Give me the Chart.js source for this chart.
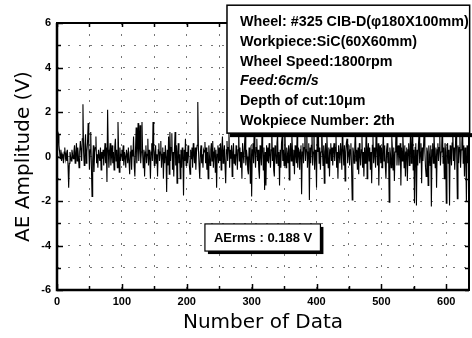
<!DOCTYPE html>
<html>
<head>
<meta charset="utf-8">
<script src="https://cdn.jsdelivr.net/npm/chart.js@4.4.0/dist/chart.umd.min.js"></script>
<style>
  html, body { margin: 0; padding: 0; background: #fff; }
</style>
</head>
<body>
<canvas id="aeChart" width="472" height="338"></canvas>
<script>
// AE amplitude (V) for each data number 0..634
const amplitude = [
  0.3, 0.9, 1.0, 0.5, 0.2, -0.1, 0.3, -0.2, 0.1, 0.0, -0.3, 0.2, 0.4, -0.1, 0.1, -0.2, 0.3, -0.4, -1.4, -0.3, 0.2, 0.0, -0.2, 0.3, 0.1,
  -0.1, 0.2, 0.5, -0.3, 0.1, 0.6, -0.2, 0.4, 0.0, -0.5, 0.2, 0.7, 0.3, -0.2, 0.8, 2.35, 0.2, -0.4, 0.5, 1.0, -0.3, 0.2, 0.6, 1.5, 0.4,
  -0.6, 0.3, 1.1, -0.4, -1.8, -0.2, 0.5, -0.7, 0.2, 0.4, 0.9, -0.3, 0.1, -0.5, 0.3, 0.0, -0.2, 0.4, -0.6, 0.2, -0.1, 0.3, -0.4, 0.1, 0.6,
  -0.3, 0.4, -1.15, 2.1, 0.3, -0.5, 0.2, 0.6, -0.4, 0.0, 0.5, -0.3, 0.2, -0.6, 0.4, 0.8, -0.2, 0.3, -0.5, 1.55, 0.2, -0.7, 0.4, -0.2, 0.1,
  0.3, -0.2, 0.5, -0.4, 0.2, 0.0, -0.5, 0.3, 0.1, -0.3, 0.4, -0.2, -0.8, 0.2, 0.5, -0.6, 0.3, 0.0, 0.9, -0.4, -0.9, 0.3, 1.3, -0.3, 0.4,
  1.5, -0.2, 0.4, 1.4, -0.3, 0.2, 1.55, 0.1, -0.5, 0.3, -0.9, 0.2, 0.5, -0.3, 0.1, 0.8, -0.4, 0.3, 0.0, -1.0, 0.2, 0.6, -0.2, 1.55, 0.3,
  -0.4, 0.2, 0.5, -0.3, 0.1, -0.9, 0.3, 0.6, -0.2, 0.2, 0.7, -0.5, 0.1, 0.4, -1.0, 0.2, -0.3, 0.5, 0.0, -1.6, 0.3, -0.4, 0.9, -0.8, 1.1,
  -0.2, 0.4, 1.05, -0.6, 0.2, -0.9, 0.3, 1.1, -0.4, 0.5, -1.2, 0.2, 0.6, -0.3, 0.1, -1.0, 0.3, -0.5, 0.4, 0.2, -1.75, 0.3, -0.2, 0.8, -0.4,
  0.2, -0.3, 0.5, 0.1, -0.4, -0.8, 0.3, -0.1, 0.4, -0.5, 0.6, 0.1, -0.3, 0.4, -0.6, 0.2, 0.5, 2.45, 0.3, -0.4, -1.0, 0.2, 0.5, -0.3, 0.1,
  -0.5, 0.3, 0.2, 0.65, -0.3, 0.4, -0.6, 0.2, -1.0, 0.5, 0.0, -0.4, 0.3, 0.6, -0.2, 0.7, -0.5, 0.2, 0.4, -0.7, 0.3, -1.4, 0.1, 0.5, -0.3,
  0.4, -0.2, 0.6, -0.6, 0.3, 0.9, -0.3, 0.2, 0.5, -0.4, -1.2, 0.3, 0.7, -0.2, 0.4, 1.2, -0.5, 0.3, -0.1, 0.5, -0.9, 0.2, 0.6, -0.3, 0.1,
  -0.4, 0.5, 0.2, -0.6, 0.3, 1.3, -0.2, 0.4, -0.5, 0.2, -1.0, 0.6, 0.1, -0.3, 0.5, 1.1, -0.4, 0.3, 0.0, -0.6, -0.8, 0.4, 0.2, -1.2, 0.5,
  -1.8, 0.3, 0.6, -0.3, 1.4, 0.2, -0.5, 0.4, 0.8, -0.2, 0.3, -0.6, -1.0, 0.5, 0.1, -0.4, 1.2, 0.3, -0.6, 0.4, -1.5, 0.2, -1.3, 0.5, -0.2,
  0.4, -0.3, 0.6, 0.1, -0.5, 0.3, 1.5, -0.2, 0.4, -0.6, -0.9, 0.5, 0.2, -0.3, 0.6, 1.0, -0.4, 0.2, -1.3, 0.3, -0.5, 0.6, 0.9, -0.2, 0.3,
  -0.4, 1.6, 0.2, -0.5, 0.4, 0.1, -0.3, 0.5, -1.05, 0.3, 0.6, -0.2, 1.0, 0.2, -0.4, 0.3, -0.8, 0.5, 0.1, -0.3, 0.9, -0.5, 0.4, 0.2, -0.6,
  0.3, 0.5, -1.7, 0.2, 0.6, -0.3, 0.4, 1.5, -0.2, 0.3, 1.3, -0.5, 0.2, 0.6, -1.95, 0.4, -0.3, 0.5, 1.1, -0.4, 0.2, 1.4, -0.6, 0.3, 0.1,
  -1.4, 1.2, 0.2, 0.9, -0.3, 0.4, -0.6, 0.2, 1.5, 0.3, -0.4, 0.5, -1.2, 0.2, 0.6, -0.3, 0.9, 0.1, -0.5, 0.4, -0.9, 0.3, 0.6, -0.2, 0.4,
  -0.4, 0.3, 0.6, -0.2, 0.4, 1.0, -0.5, 0.2, -1.0, 0.5, 0.1, -0.3, 0.6, 0.2, -0.6, 1.6, 0.3, -0.4, 0.5, -1.1, 0.2, 0.6, 0.8, -0.3, 0.2,
  0.5, -0.4, 0.3, 0.6, -0.5, -1.95, 0.4, 0.2, -0.3, 0.5, 1.2, -0.2, 0.3, -0.6, 0.4, -0.8, 0.6, 0.1, -0.4, 0.3, 1.0, -0.5, 0.2, -0.9, 0.4,
  -0.3, 0.5, 1.5, -1.0, 0.3, 0.6, -0.2, 0.4, -0.6, 0.2, -1.2, 0.5, 0.9, -0.3, 0.4, 0.1, -0.5, 1.6, 0.3, -0.4, 0.6, -1.3, 0.2, 0.5, -0.3,
  0.4, -0.5, 0.3, 1.1, -0.2, 0.5, -0.4, -1.0, 0.3, 0.6, -0.3, 0.2, -2.05, 0.4, 0.1, -0.5, 0.9, 0.3, -0.6, 0.4, -1.1, 0.2, 0.6, 1.6, -0.4,
  0.3, 0.5, -0.4, 0.2, 0.6, -1.3, 0.4, -0.2, 1.0, 0.3, -0.5, 0.5, -0.9, 0.2, 0.4, -1.1, 0.3, 0.6, -0.4, 0.2, 1.2, -0.3, 0.4, 1.5, -0.6,
  0.3, -2.1, 0.4, 0.6, -2.2, 0.3, -0.4, 0.5, 1.0, -0.3, 0.2, 0.6, -1.2, 0.4, -0.2, 0.5, 1.3, 0.2, -0.5, -0.9, 0.4, 0.2, -1.3, 0.5, 0.1,
  -0.4, 0.5, -2.25, 0.3, 0.6, -0.3, 1.1, 0.2, -0.5, 0.4, -1.4, 0.3, 0.6, -0.2, 0.4, 0.9, -0.4, 0.2, 0.5, 1.6, -0.3, 0.4, -1.0, 0.6, 0.2,
  -2.1, 0.4, 0.6, -0.3, 0.3, -2.2, 0.5, 0.2, -0.4, 0.6, 1.2, -0.2, 0.4, -0.6, 0.3, 1.5, 0.2, -1.9, 0.5, -0.3, 0.4, 0.9, -0.5, 0.3, 0.6,
  1.4, -0.3, 0.5, -0.9, 0.4, 0.2, -2.0, 0.5, -0.3, 0.4
];

const xMin = 0, xMax = 635;
const yMin = -6, yMax = 6;

const infoLines = [
  'Wheel: #325 CIB-D(\u03C6180X100mm)',
  'Workpiece:SiC(60X60mm)',
  'Wheel Speed:1800rpm',
  'Feed:6cm/s',
  'Depth of cut:10\u03BCm',
  'Wokpiece Number: 2th'
];
const infoItalic = [false, false, false, true, false, false];
const rmsLabel = 'AErms : 0.188 V';

const tickFont = { family: '"Liberation Sans", Arial, sans-serif', size: 11, weight: 'bold' };
const titleFont = { family: '"DejaVu Sans", sans-serif', size: 20 };

// frame, inward ticks and the two text boxes
const decorPlugin = {
  id: 'decor',
  afterDatasetsDraw(chart) {
    const { ctx, chartArea: a, scales: { x, y } } = chart;
    ctx.save();
    ctx.strokeStyle = '#000';
    ctx.lineWidth = 1.5;
    ctx.beginPath();
    x.ticks.forEach(t => {
      const px = Math.round(x.getPixelForValue(t.value)) + 0.5;
      const len = t.value % 100 === 0 ? 6 : 4;
      ctx.moveTo(px, a.bottom); ctx.lineTo(px, a.bottom - len);
      ctx.moveTo(px, a.top); ctx.lineTo(px, a.top + 4);
    });
    y.ticks.forEach(t => {
      const py = Math.round(y.getPixelForValue(t.value)) + 0.5;
      const len = t.value % 2 === 0 ? 6 : 4;
      ctx.moveTo(a.left, py); ctx.lineTo(a.left + len, py);
      ctx.moveTo(a.right, py); ctx.lineTo(a.right - 4, py);
    });
    ctx.stroke();

    // plot frame
    ctx.lineWidth = 2;
    ctx.strokeRect(a.left, a.top, a.right - a.left, a.bottom - a.top);
    ctx.lineWidth = 2.5;
    ctx.beginPath();
    ctx.moveTo(a.left, a.top); ctx.lineTo(a.left, a.bottom); ctx.lineTo(a.right, a.bottom);
    ctx.stroke();

    // info box (upper right)
    const bx0 = x.getPixelForValue(262), bx1 = x.getPixelForValue(636);
    const by0 = y.getPixelForValue(6.8), by1 = y.getPixelForValue(1.05);
    ctx.fillStyle = '#000';
    ctx.fillRect(bx0 + 3, by1, bx1 - bx0, 4);
    ctx.fillStyle = '#fff';
    ctx.fillRect(bx0, by0, bx1 - bx0, by1 - by0);
    ctx.lineWidth = 1.5;
    ctx.strokeRect(bx0, by0, bx1 - bx0, by1 - by0);
    ctx.fillStyle = '#000';
    ctx.textBaseline = 'middle';
    ctx.textAlign = 'left';
    infoLines.forEach((line, i) => {
      ctx.font = (infoItalic[i] ? 'italic ' : '') + 'bold 14.3px "Liberation Sans", Arial, sans-serif';
      ctx.fillText(line, bx0 + 13, by0 + 17 + i * 19.7);
    });

    // AErms box
    const rx0 = x.getPixelForValue(228), rx1 = x.getPixelForValue(406);
    const ry0 = y.getPixelForValue(-3.03), ry1 = y.getPixelForValue(-4.25);
    ctx.fillStyle = '#000';
    ctx.fillRect(rx0 + 3, ry0 + 3, rx1 - rx0, ry1 - ry0);
    ctx.fillStyle = '#fff';
    ctx.fillRect(rx0, ry0, rx1 - rx0, ry1 - ry0);
    ctx.lineWidth = 1.2;
    ctx.strokeRect(rx0, ry0, rx1 - rx0, ry1 - ry0);
    ctx.fillStyle = '#000';
    ctx.font = 'bold 13px "Liberation Sans", Arial, sans-serif';
    ctx.fillText(rmsLabel, rx0 + 9, (ry0 + ry1) / 2 + 1);
    ctx.restore();
  }
};

new Chart(document.getElementById('aeChart'), {
  type: 'line',
  data: {
    datasets: [{
      data: amplitude.map((v, i) => ({ x: i, y: v })),
      borderColor: '#000',
      borderWidth: 1.1,
      pointRadius: 0,
      tension: 0
    }]
  },
  options: {
    responsive: false,
    animation: false,
    parsing: false,
    layout: { padding: { top: 23, right: 3, left: 0, bottom: 0 } },
    plugins: { legend: { display: false }, tooltip: { enabled: false } },
    scales: {
      x: {
        type: 'linear',
        min: xMin,
        max: xMax,
        afterFit: s => { s.height = 48; },
        ticks: {
          stepSize: 50,
          includeBounds: false,
          autoSkip: false,
          maxRotation: 0,
          padding: 5,
          color: '#000',
          font: tickFont,
          callback: v => (v % 100 === 0 ? String(v) : '')
        },
        grid: { color: '#777', lineWidth: 1, drawTicks: false },
        border: { display: false, dash: [2, 9] },
        title: { display: true, text: 'Number of Data', color: '#000', font: titleFont, padding: { top: 0, bottom: 3 } }
      },
      y: {
        min: yMin,
        max: yMax,
        afterFit: s => { s.width = 57; },
        ticks: {
          stepSize: 1,
          autoSkip: false,
          padding: 6,
          color: '#000',
          font: tickFont,
          callback: v => (v % 2 === 0 ? String(v) : '')
        },
        grid: { color: '#777', lineWidth: 1, drawTicks: false },
        border: { display: false, dash: [2, 9] },
        title: { display: true, text: 'AE Amplitude (V)', color: '#000', font: titleFont, padding: { top: 12, bottom: 0 } }
      }
    }
  },
  plugins: [decorPlugin]
});
</script>
</body>
</html>
